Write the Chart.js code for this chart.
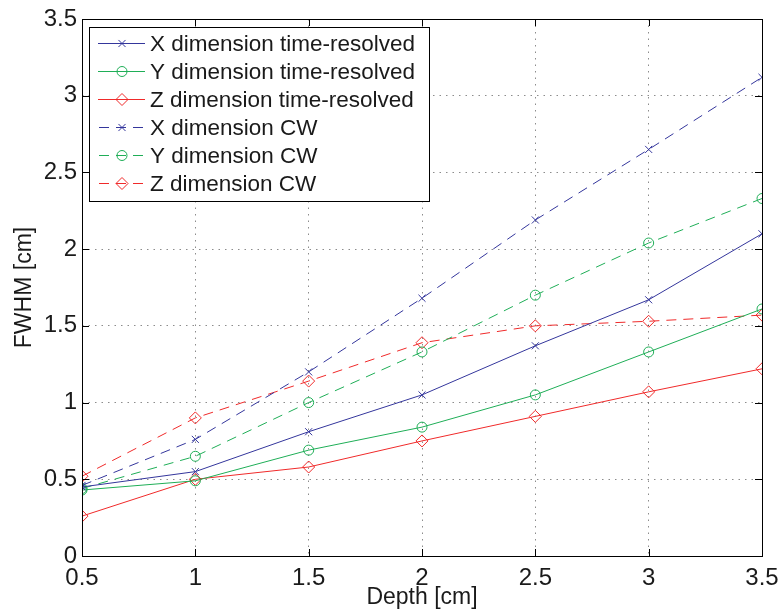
<!DOCTYPE html>
<html>
<head>
<meta charset="utf-8">
<script src="https://cdn.jsdelivr.net/npm/chart.js@4"></script>
<style>
  html, body { margin: 0; padding: 0; background: #fff; }
  #wrap { position: relative; width: 779px; height: 611px; }
</style>
</head>
<body>
<div id="wrap"><canvas id="chart" width="779" height="611"></canvas></div>
<script>
// depth values along the x axis (cm)
const depth = [0.5, 1, 1.5, 2, 2.5, 3, 3.5];

// FWHM values (cm)
const xTimeResolved = [0.45, 0.55, 0.81, 1.05, 1.37, 1.67, 2.10];
const yTimeResolved = [0.43, 0.49, 0.69, 0.84, 1.05, 1.33, 1.61];
const zTimeResolved = [0.26, 0.50, 0.58, 0.75, 0.91, 1.07, 1.22];
const xCW = [0.46, 0.76, 1.20, 1.68, 2.19, 2.65, 3.12];
const yCW = [0.44, 0.65, 1.00, 1.33, 1.70, 2.04, 2.33];
const zCW = [0.52, 0.90, 1.14, 1.39, 1.50, 1.53, 1.57];

const blue = '#34369c';
const green = '#1fae57';
const red = '#f02a2a';
const FONT = 'Liberation Sans, Arial, Helvetica, sans-serif';

function series(label, values, color, marker, dashed) {
  return {
    label: label,
    data: depth.map((d, i) => ({ x: d, y: values[i] })),
    borderColor: color,
    backgroundColor: 'rgba(0,0,0,0)',
    borderWidth: 1,
    borderDash: dashed ? [10, 7] : [],
    pointStyle: marker,
    pointRadius: marker === 'crossRot' ? 5 : (marker === 'circle' ? 5 : 6),
    pointBorderColor: color,
    pointBackgroundColor: 'rgba(0,0,0,0)',
    pointBorderWidth: 1,
    tension: 0,
    fill: false
  };
}

// plain numbers: 0.5, 1, 1.5 ...
const fmt = v => String(Number(v.toFixed(2)));

// box round the plot with MATLAB style inward ticks
const axesBox = {
  id: 'axesBox',
  afterDatasetsDraw(chart) {
    const { ctx, chartArea: a, scales } = chart;
    ctx.save();
    ctx.strokeStyle = '#000';
    ctx.lineWidth = 1;
    ctx.setLineDash([]);
    ctx.strokeRect(a.left + 0.5, a.top + 0.5, a.right - a.left, a.bottom - a.top);
    const len = 7;
    ctx.beginPath();
    scales.x.ticks.forEach(t => {
      const px = Math.round(scales.x.getPixelForValue(t.value)) + 0.5;
      ctx.moveTo(px, a.bottom); ctx.lineTo(px, a.bottom - len);
      ctx.moveTo(px, a.top); ctx.lineTo(px, a.top + len);
    });
    scales.y.ticks.forEach(t => {
      const py = Math.round(scales.y.getPixelForValue(t.value)) + 0.5;
      ctx.moveTo(a.left, py); ctx.lineTo(a.left + len, py);
      ctx.moveTo(a.right, py); ctx.lineTo(a.right - len, py);
    });
    ctx.stroke();
    ctx.restore();
  }
};

// legend drawn inside the plot, top left
const boxLegend = {
  id: 'boxLegend',
  afterDraw(chart) {
    const { ctx, chartArea: a } = chart;
    const left = a.left + 7, top = a.top + 8;
    const w = 340, h = 174, rowH = 28;
    ctx.save();
    ctx.fillStyle = '#fff';
    ctx.fillRect(left, top, w, h);
    ctx.strokeStyle = '#000';
    ctx.lineWidth = 1;
    ctx.strokeRect(left + 0.5, top + 0.5, w, h);
    chart.data.datasets.forEach((ds, i) => {
      const y = Math.round(top + 16 + i * rowH) + 0.5;
      ctx.strokeStyle = ds.borderColor;
      ctx.lineWidth = 1;
      ctx.setLineDash(ds.borderDash);
      ctx.lineDashOffset = ds.borderDash.length ? -1 : 0;
      ctx.beginPath();
      ctx.moveTo(left + 9, y);
      ctx.lineTo(left + 56, y);
      ctx.stroke();
      ctx.setLineDash([]);
      ctx.fillStyle = 'rgba(0,0,0,0)';
      Chart.helpers.drawPoint(ctx, {
        pointStyle: ds.pointStyle,
        radius: ds.pointRadius,
        borderWidth: 1,
        rotation: 0
      }, left + 33, y);
      ctx.fillStyle = '#1a1a1a';
      ctx.font = '22.5px ' + FONT;
      ctx.textBaseline = 'middle';
      ctx.textAlign = 'left';
      ctx.fillText(ds.label, left + 61, y + 1);
    });
    ctx.restore();
  }
};

new Chart(document.getElementById('chart'), {
  type: 'line',
  data: {
    datasets: [
      series('X dimension time-resolved', xTimeResolved, blue, 'crossRot', false),
      series('Y dimension time-resolved', yTimeResolved, green, 'circle', false),
      series('Z dimension time-resolved', zTimeResolved, red, 'rectRot', false),
      series('X dimension CW', xCW, blue, 'crossRot', true),
      series('Y dimension CW', yCW, green, 'circle', true),
      series('Z dimension CW', zCW, red, 'rectRot', true)
    ]
  },
  options: {
    responsive: false,
    animation: false,
    layout: { padding: { top: 19, right: 17, left: 0, bottom: 0 } },
    plugins: {
      legend: { display: false },
      tooltip: { enabled: false }
    },
    scales: {
      x: {
        type: 'linear',
        min: 0.5,
        max: 3.5,
        ticks: { stepSize: 0.5, callback: fmt, color: '#1a1a1a', font: { family: FONT, size: 24 }, padding: 8, maxRotation: 0 },
        grid: { color: 'rgba(0,0,0,0.45)', lineWidth: 1, drawTicks: false },
        border: { display: false, dash: [1.5, 5] },
        title: { display: true, text: 'Depth [cm]', color: '#1a1a1a', font: { family: FONT, size: 23 }, padding: { top: 0, bottom: 0 } },
        afterFit(scale) { scale.height = 55; scale.paddingLeft = 0; scale.paddingRight = 0; }
      },
      y: {
        min: 0,
        max: 3.5,
        ticks: { stepSize: 0.5, callback: fmt, color: '#1a1a1a', font: { family: FONT, size: 24 }, padding: 5 },
        grid: { color: 'rgba(0,0,0,0.45)', lineWidth: 1, drawTicks: false },
        border: { display: false, dash: [1.5, 5] },
        title: { display: true, text: 'FWHM [cm]', color: '#1a1a1a', font: { family: FONT, size: 23 }, padding: { top: 11, bottom: 0 } },
        afterFit(scale) { scale.width = 82; scale.paddingTop = 0; scale.paddingBottom = 0; }
      }
    }
  },
  plugins: [axesBox, boxLegend]
});
</script>
</body>
</html>
